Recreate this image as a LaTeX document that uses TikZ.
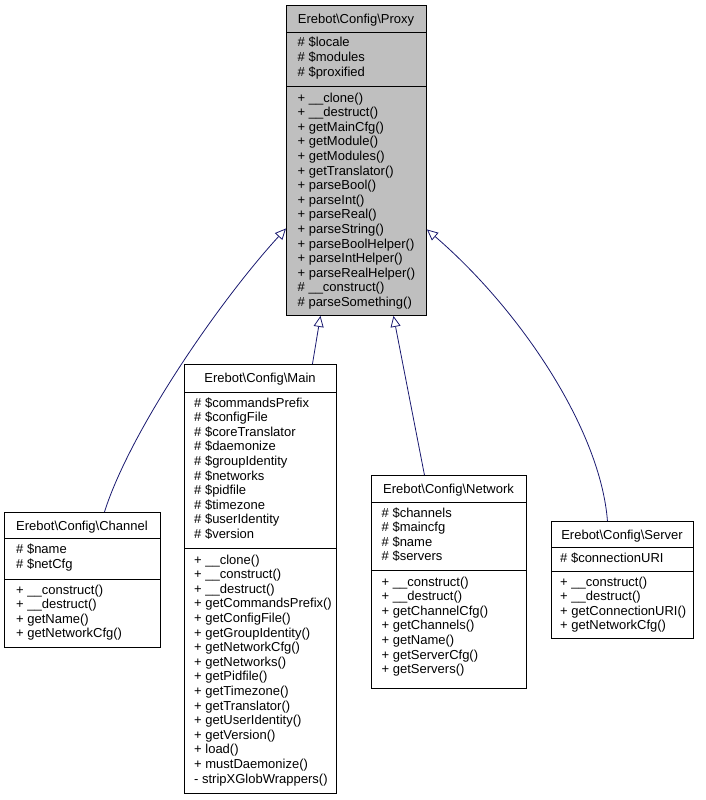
\documentclass[tikz,border=0pt]{standalone}
\usepackage{fontspec}
\setmainfont{Liberation Sans}
\usetikzlibrary{arrows.meta}
\definecolor{edgeblue}{HTML}{191970}
\definecolor{grayfill}{HTML}{BFBFBF}
\tikzset{
  classbox/.style={draw=black, line width=0.9pt, anchor=north west, inner sep=0pt, fill=white},
  sepline/.style={draw=black, line width=0.9pt},
  ttl/.style={anchor=base, inner sep=0pt, font=\fontsize{13}{14.6}\selectfont},
  mem/.style={anchor=base west, inner sep=0pt, font=\fontsize{13}{14.6}\selectfont},
  inh/.style={draw=edgeblue, line width=0.8pt, -{Triangle[fill=white, length=11pt, width=10pt]}},
}
\newcommand\memlist[4]{%
  \foreach \t [count=\i from 0] in {#4} {
    \node[mem] (#1\i) at (#2, {-(#3+\i*14.6)}) {\t};
  }}
\begin{document}
\begin{tikzpicture}[x=1pt, y=1pt]
\useasboundingbox (0,0) rectangle (706,-800);

% ---------- Proxy ----------
\node[classbox, fill=grayfill, minimum width=140pt, minimum height=310pt] (proxy) at (286,-5) {};
\draw[sepline] (286,-32) -- (426,-32);
\draw[sepline] (286,-86) -- (426,-86);
\node[ttl] (proxyT) at (356,-23.5) {Erebot\textbackslash Config\textbackslash Proxy};
\memlist{pa}{297.5}{47}{\# \$locale, \# \$modules, \# \$proxified}
\memlist{pm}{297.5}{102}{+ \_\_clone(), + \_\_destruct(), + getMainCfg(), + getModule(), + getModules(), + getTranslator(), + parseBool(), + parseInt(), + parseReal(), + parseString(), + parseBoolHelper(), + parseIntHelper(), + parseRealHelper(), \# \_\_construct(), \# parseSomething()}

% ---------- Main ----------
\node[classbox, minimum width=152pt, minimum height=429pt] (main) at (184,-364) {};
\draw[sepline] (184,-392) -- (336,-392);
\draw[sepline] (184,-548) -- (336,-548);
\node[ttl] (mainT) at (260,-382.5) {Erebot\textbackslash Config\textbackslash Main};
\memlist{ma}{194}{407}{\# \$commandsPrefix, \# \$configFile, \# \$coreTranslator, \# \$daemonize, \# \$groupIdentity, \# \$networks, \# \$pidfile, \# \$timezone, \# \$userIdentity, \# \$version}
\memlist{mm}{194}{564}{+ \_\_clone(), + \_\_construct(), + \_\_destruct(), + getCommandsPrefix(), + getConfigFile(), + getGroupIdentity(), + getNetworkCfg(), + getNetworks(), + getPidfile(), + getTimezone(), + getTranslator(), + getUserIdentity(), + getVersion(), + load(), + mustDaemonize(), - stripXGlobWrappers()}

% ---------- Channel ----------
\node[classbox, minimum width=156pt, minimum height=135pt] (channel) at (4,-512) {};
\draw[sepline] (4,-538) -- (160,-538);
\draw[sepline] (4,-579) -- (160,-579);
\node[ttl] (channelT) at (82,-530.5) {Erebot\textbackslash Config\textbackslash Channel};
\memlist{ca}{16}{553.5}{\# \$name, \# \$netCfg}
\memlist{cm}{16}{594}{+ \_\_construct(), + \_\_destruct(), + getName(), + getNetworkCfg()}

% ---------- Network ----------
\node[classbox, minimum width=155pt, minimum height=213pt] (network) at (371,-475) {};
\draw[sepline] (371,-502) -- (526,-502);
\draw[sepline] (371,-570) -- (526,-570);
\node[ttl] (networkT) at (448.5,-493.5) {Erebot\textbackslash Config\textbackslash Network};
\memlist{na}{381.5}{517}{\# \$channels, \# \$maincfg, \# \$name, \# \$servers}
\memlist{nm}{381.5}{586}{+ \_\_construct(), + \_\_destruct(), + getChannelCfg(), + getChannels(), + getName(), + getServerCfg(), + getServers()}

% ---------- Server ----------
\node[classbox, minimum width=142pt, minimum height=117pt] (server) at (551,-521) {};
\draw[sepline] (551,-547) -- (693,-547);
\draw[sepline] (551,-571) -- (693,-571);
\node[ttl] (serverT) at (622,-539.5) {Erebot\textbackslash Config\textbackslash Server};
\memlist{sa}{560}{562}{\# \$connectionURI}
\memlist{sm}{560}{586}{+ \_\_construct(), + \_\_destruct(), + getConnectionURI(), + getNetworkCfg()}

% ---------- inheritance connectors ----------
\draw[inh] ([xshift=22pt]channel.north) .. controls +(26,82) and +(-66,-72) .. ([yshift=-68pt]proxy.west);
\draw[inh] ([xshift=52pt]main.north) -- ([xshift=-36pt]proxy.south);
\draw[inh] ([xshift=-24.5pt]network.north) -- ([xshift=37pt]proxy.south);
\draw[inh] ([xshift=-15pt]server.north) .. controls +(-7,91) and +(94,-81) .. ([yshift=-69pt]proxy.east);
\end{tikzpicture}
\end{document}
